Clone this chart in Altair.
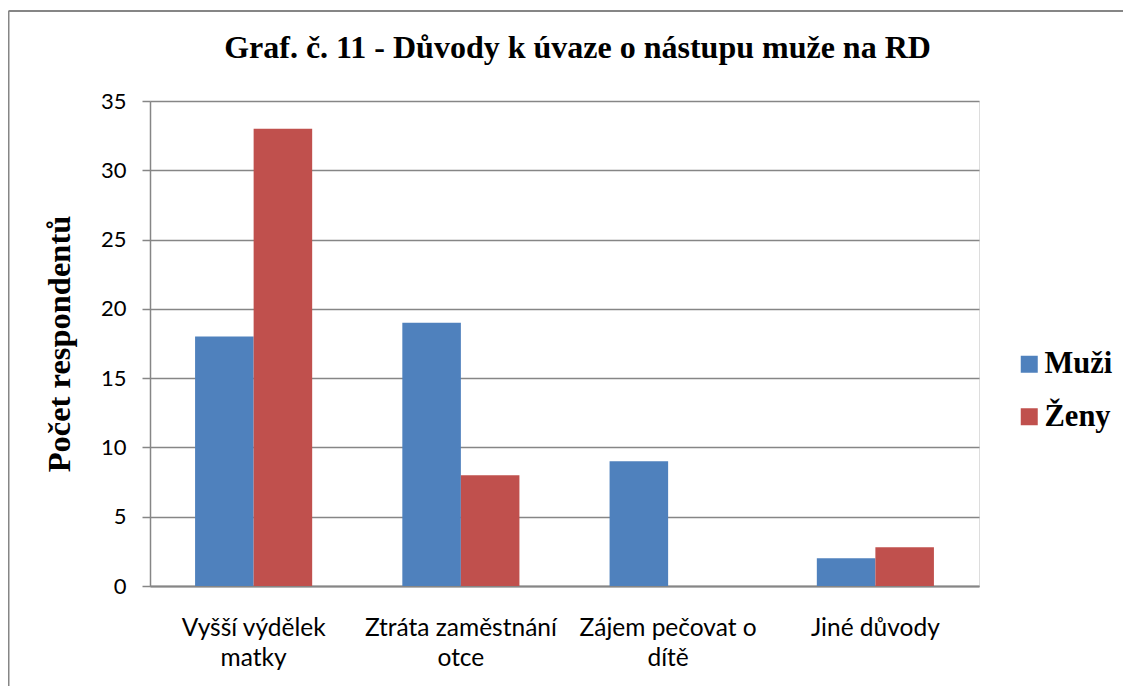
import altair as alt
import pandas as pd

categories = ["Vyšší výdělek\nmatky", "Ztráta zaměstnání\notce", "Zájem pečovat o\ndítě", "Jiné důvody"]
series = ["Muži", "Ženy"]
muzi = [18, 19, 9, 2]
zeny = [33, 8, 0, 2.8]
y_ticks = [0, 5, 10, 15, 20, 25, 30, 35]
colors = ["#4F81BD", "#C0504D"]

df = pd.DataFrame({
    "kat": categories * 2,
    "pohlavi": [series[0]] * len(categories) + [series[1]] * len(categories),
    "pocet": muzi + zeny,
})

GRAY = "#868686"
SERIF = "Liberation Serif"
SANS = "Lato"

bars = alt.Chart(df).mark_bar().encode(
    x=alt.X("kat:N", sort=categories,
            scale=alt.Scale(paddingInner=0.435, paddingOuter=0.2175),
            axis=alt.Axis(title=None, labelAngle=0, labelExpr="split(datum.label, '\\n')",
                          labelFont=SANS, labelFontSize=24.5, labelColor="black",
                          labelLineHeight=30, labelPadding=30, ticks=False,
                          labelLimit=400, labelOverlap=False,
                          domainColor=GRAY, domainWidth=2, labelBaseline="top")),
    xOffset=alt.XOffset("pohlavi:N", sort=series,
                        scale=alt.Scale(paddingInner=0, paddingOuter=0)),
    y=alt.Y("pocet:Q", scale=alt.Scale(domain=[0, 35], nice=False),
            axis=alt.Axis(values=y_ticks, title="Počet respondentů",
                          titleFont=SERIF, titleFontSize=32.5, titleFontWeight="bold",
                          titleColor="black", titlePadding=24,
                          labelFont=SANS, labelFontSize=22, labelColor="black",
                          labelPadding=16, tickSize=8, tickColor=GRAY, tickWidth=1.5,
                          domainColor=GRAY, domainWidth=1.5,
                          grid=True, gridColor=GRAY, gridWidth=1.3)),
    color=alt.Color("pohlavi:N",
                    scale=alt.Scale(domain=series, range=colors),
                    legend=alt.Legend(title=None, orient="none", legendX=864, legendY=248,
                                      symbolType="square", symbolSize=289, symbolStrokeWidth=0,
                                      labelFont=SERIF, labelFontSize=30.5, labelFontWeight="bold",
                                      labelColor="black", rowPadding=21.5, labelOffset=0)),
)

border_left = alt.Chart(pd.DataFrame({"k": [0]})).mark_rule(color=GRAY, strokeWidth=2).encode(
    x=alt.value(-141.5), y=alt.value(-90), y2=alt.value(700))
border_top = alt.Chart(pd.DataFrame({"k": [0]})).mark_rule(color=GRAY, strokeWidth=2).encode(
    x=alt.value(-141.5), x2=alt.value(1200), y=alt.value(-90))

chart = alt.layer(bars, border_left, border_top).properties(
    width=829, height=485,
    padding={"left": 142, "top": 93, "right": 144, "bottom": 100},
    autosize=alt.AutoSizeParams(type="none"),
    title=alt.TitleParams("Graf. č. 11 - Důvody k úvaze o nástupu muže na RD",
                          font=SERIF, fontSize=32, fontWeight="bold", color="black",
                          anchor="middle", frame="group", dx=13, offset=-55),
).configure_view(stroke=None).configure(background="white")

chart.save("out.html", embed_options={"renderer": "svg", "actions": False})
